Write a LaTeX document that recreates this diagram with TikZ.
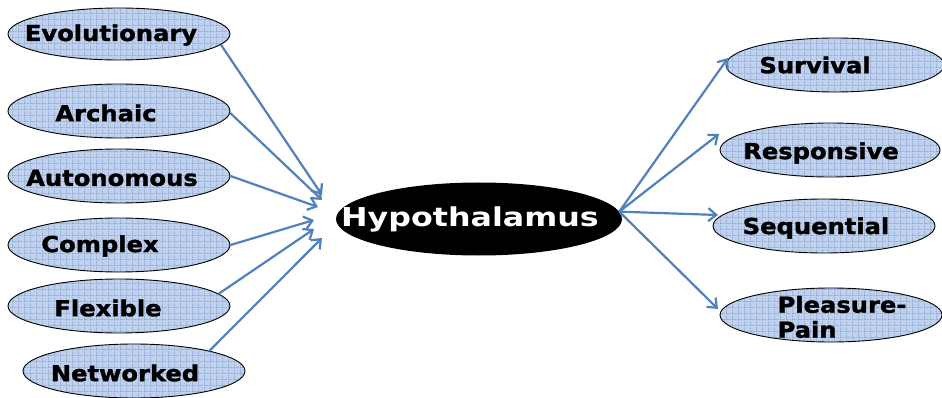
\documentclass[tikz,border=0pt]{standalone}
\usepackage{fontspec}
\setmainfont{DejaVu Sans}
\newfontfamily\traitfont[FakeStretch=1.1, FakeBold=1.5]{DejaVu Sans}
\newfontfamily\hubfont[FakeStretch=1.22]{DejaVu Sans}
\usetikzlibrary{shapes.geometric, arrows.meta, patterns.meta}

\definecolor{linkblue}{RGB}{79,129,189}
\definecolor{cellfill}{RGB}{192,209,237}
\definecolor{cellline}{RGB}{98,140,205}

\tikzdeclarepattern{
  name=cellgrid,
  type=uncolored,
  bounding box={(0pt,0pt) and (6pt,6pt)},
  tile size={(6pt,6pt)},
  code={\draw[line width=0.9pt] (0pt,0pt) -- (6pt,0pt) (0pt,0pt) -- (0pt,6pt);}
}

\begin{document}
\begin{tikzpicture}[
        x=1pt, y=-1pt,
        trait/.style={ellipse, draw=black, line width=0.9pt, preaction={fill=cellfill}, pattern={cellgrid}, pattern color=cellline, minimum width=222pt, minimum height=54pt, inner sep=0pt},
        word/.style={font=\traitfont\bfseries\fontsize{22}{21}\selectfont, text=black, align=left},
        hub/.style={ellipse, fill=black, minimum width=286pt, minimum height=73pt, inner sep=0pt},
        link/.style={-{Straight Barb[length=8pt, width=13pt]}, draw=linkblue, line width=2.2pt}
    ]
        \useasboundingbox (0,0) rectangle (942,398);

        % --- NODES ---
        \node[hub] (hypo) at (479,219) {};
        \node[font=\hubfont\bfseries\fontsize{26}{26}\selectfont, text=white] (hypotext) at (470,219) {Hypothalamus};

        \node[trait, minimum height=52pt, label={[word, xshift=-8pt, yshift=-1pt]center:Evolutionary}] (evo) at (119,34) {};
        \node[trait, label={[word, xshift=-13pt, yshift=-2pt]center:Archaic}] (arch) at (119,111) {};
        \node[trait, label={[word, xshift=-7pt, yshift=-2pt]center:Autonomous}] (auto) at (119,176) {};
        \node[trait, label={[word, xshift=-19pt, yshift=-1pt]center:Complex}] (cplx) at (119,245) {};
        \node[trait, label={[word, xshift=-11pt, yshift=-2pt]center:Flexible}] (flex) at (119,306) {};
        \node[trait, label={[word, xshift=-9pt, yshift=-2pt]center:Networked}] (netw) at (134,371) {};

        \node[trait, minimum width=218pt, label={[word, xshift=-20pt]center:Survival}] (surv) at (835,65) {};
        \node[trait, minimum width=220pt, label={[word, xshift=-9pt, yshift=-3pt]center:Responsive}] (resp) at (830,150) {};
        \node[trait, label={[word, xshift=-8pt, yshift=-2pt]center:Sequential}] (sequ) at (824,226) {};
        \node[trait, label={[word, font=\traitfont\bfseries\fontsize{22}{25}\selectfont, xshift=11pt, yshift=-2pt]center:Pleasure-\\Pain}] (plea) at (831,315) {};

        % --- ARROW TIPS ---
        \coordinate (tipevo) at (322,195);
        \coordinate (tiparch) at (322,200);
        \coordinate (tipauto) at (318,207);
        \coordinate (tipcplx) at (314,220);
        \coordinate (tipflex) at (314,229);
        \coordinate (tipnetw) at (322,238);
        \coordinate (tipsurv) at (728,58);
        \coordinate (tipresp) at (719,134);
        \coordinate (tipsequ) at (718,215);
        \coordinate (tipplea) at (718,309);

        % --- CONNECTIONS ---
        \draw[link] (evo.-6) -- (tipevo);
        \draw[link] (arch.-1) -- (tiparch);
        \draw[link] (auto.east) -- (tipauto);
        \draw[link] (cplx.east) -- (tipcplx);
        \draw[link] (flex.7) -- (tipflex);
        \draw[link] (netw.15) -- (tipnetw);

        \draw[link] (hypo.3) -- (tipsurv);
        \draw[link] (hypo.3) -- (tipresp);
        \draw[link] (hypo.3) -- (tipsequ);
        \draw[link] (hypo.3) -- (tipplea);

    \end{tikzpicture}
\end{document}
